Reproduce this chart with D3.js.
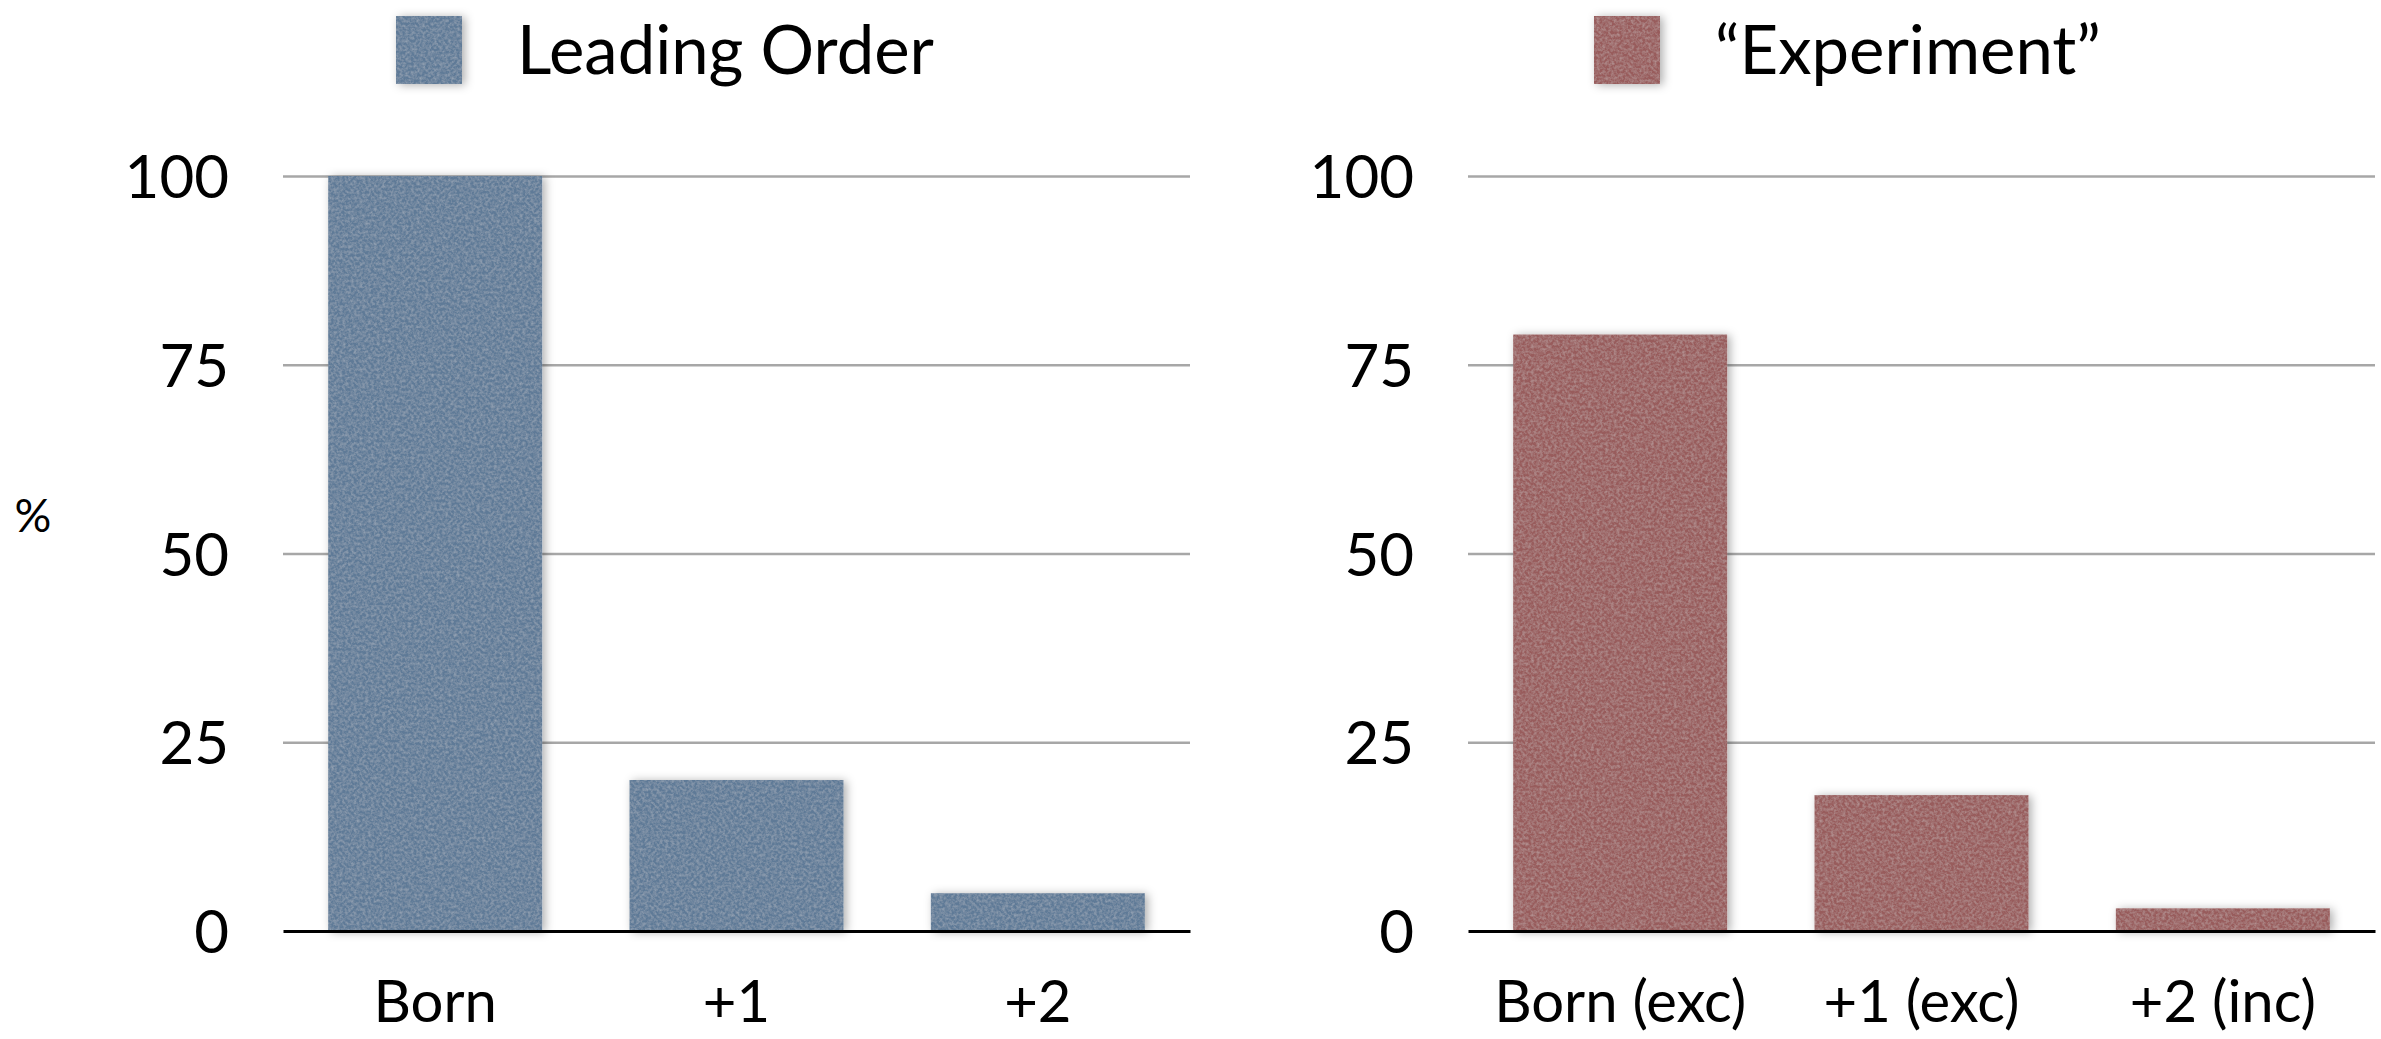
<!DOCTYPE html>
<html>
<head>
<meta charset="utf-8">
<script src="https://cdn.jsdelivr.net/npm/d3@7"></script>
<style>
  html, body { margin: 0; padding: 0; background: #ffffff; }
  svg { display: block; }
  text { font-family: Lato, "Noto Sans", sans-serif; fill: #000; }
</style>
</head>
<body>
<svg id="chart" width="2381" height="1039"></svg>
<script>
// ---- data ----
const leftCategories = ["Born", "+1", "+2"];
const leftValues = [100, 20, 5];
const leftSeriesName = "Leading Order";

const rightCategories = ["Born (exc)", "+1 (exc)", "+2 (inc)"];
const rightValues = [79, 18, 3];
const rightSeriesName = "\u201CExperiment\u201D";

const yTicks = [0, 25, 50, 75, 100];
const yAxisLabel = "%";

// ---- layout / style ----
const W = 2381, H = 1039;
const colors = { left: "#5f7a97", right: "#985b5b" };
const svg = d3.select("#chart");

// filters: drop shadow + paper texture
const defs = svg.append("defs");
const f = defs.append("filter").attr("id", "barfx")
  .attr("filterUnits", "userSpaceOnUse")
  .attr("x", 0).attr("y", 0).attr("width", W).attr("height", H);
f.append("feGaussianBlur").attr("in", "SourceAlpha").attr("stdDeviation", 5).attr("result", "blur");
f.append("feOffset").attr("in", "blur").attr("dx", 3).attr("dy", 1).attr("result", "off");
f.append("feFlood").attr("flood-color", "#000").attr("flood-opacity", 0.32).attr("result", "fl");
f.append("feComposite").attr("in", "fl").attr("in2", "off").attr("operator", "in").attr("result", "shadow");
f.append("feTurbulence").attr("type", "fractalNoise").attr("baseFrequency", 0.35)
  .attr("numOctaves", 3).attr("seed", 7).attr("result", "noise");
f.append("feColorMatrix").attr("in", "noise").attr("type", "matrix")
  .attr("values", "0 0 0 0 1  0 0 0 0 1  0 0 0 0 1  0.35 0 0 0 -0.12").attr("result", "speck");
f.append("feComposite").attr("in", "speck").attr("in2", "SourceGraphic").attr("operator", "in").attr("result", "speckIn");
const merge = f.append("feMerge");
merge.append("feMergeNode").attr("in", "shadow");
merge.append("feMergeNode").attr("in", "SourceGraphic");
merge.append("feMergeNode").attr("in", "speckIn");

const y = d3.scaleLinear().domain([0, 100]).range([931, 176]);

function panel(cfg) {
  const g = svg.append("g");
  const x = d3.scaleBand().domain(cfg.categories).range(cfg.range)
    .paddingInner(0.29).paddingOuter(0.15);
  const width = cfg.range[1] - cfg.range[0];

  // y axis with gridlines
  const yAxis = d3.axisLeft(y).tickValues(yTicks).tickSize(-width).tickPadding(54)
    .tickFormat(d3.format("d"));
  const ga = g.append("g").attr("transform", `translate(${cfg.range[0]},0)`).call(yAxis);
  ga.select(".domain").remove();
  ga.selectAll(".tick line").attr("stroke", "#a7a7a7").attr("stroke-width", 2.5);
  ga.selectAll(".tick text").attr("font-size", 60).attr("font-family", "Lato")
    .attr("dy", "0.36em").attr("fill", "#000");
  ga.selectAll(".tick").filter(d => d === 0).select("line").attr("stroke-opacity", 0);

  // bars
  g.append("g").selectAll("rect").data(cfg.values).join("rect")
    .attr("x", (d, i) => x(cfg.categories[i]))
    .attr("width", x.bandwidth())
    .attr("y", d => y(d))
    .attr("height", d => y(0) - y(d))
    .attr("fill", cfg.color)
    .attr("filter", "url(#barfx)");

  // baseline (x axis)
  const xAxis = d3.axisBottom(x).tickSize(0).tickPadding(0);
  const gx = g.append("g").attr("transform", `translate(0,${y(0)})`).call(xAxis);
  gx.select(".domain").attr("stroke", "#000").attr("stroke-width", 3);
  gx.selectAll(".tick text").attr("font-size", 58).attr("font-family", "Lato")
    .attr("dy", null).attr("y", 91).attr("fill", "#000");

  // legend
  const lg = g.append("g");
  lg.append("rect").attr("x", cfg.legendX).attr("y", 16).attr("width", 66).attr("height", 68)
    .attr("fill", cfg.color).attr("filter", "url(#barfx)");
  lg.append("text").attr("x", cfg.legendX + 121).attr("y", 74)
    .attr("font-size", 67).text(cfg.name);
}

panel({ categories: leftCategories, values: leftValues, name: leftSeriesName,
        color: colors.left, range: [283, 1190], legendX: 396 });
panel({ categories: rightCategories, values: rightValues, name: rightSeriesName,
        color: colors.right, range: [1468, 2375], legendX: 1594 });

svg.append("text").attr("x", 33).attr("y", 515).attr("dy", "0.36em")
  .attr("text-anchor", "middle").attr("font-size", 46).text(yAxisLabel);
</script>
</body>
</html>
